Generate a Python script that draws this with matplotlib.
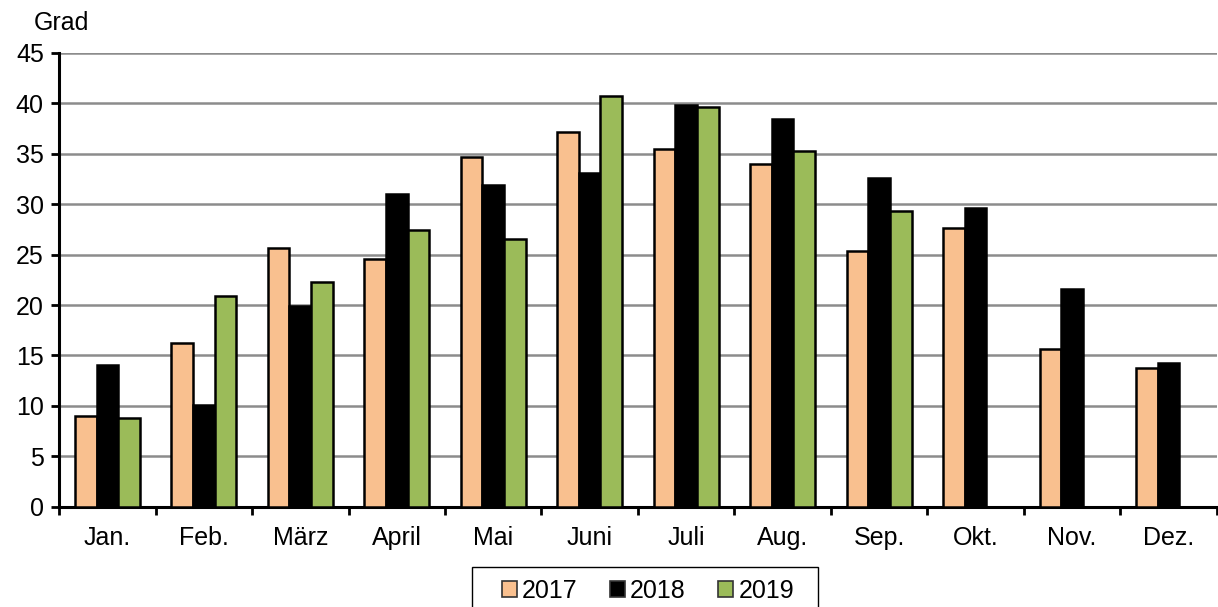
import matplotlib.pyplot as plt
import numpy as np
from matplotlib.patches import Rectangle

plt.rcParams['font.family'] = ['Liberation Sans', 'DejaVu Sans']

months = ['Jan.', 'Feb.', 'März', 'April', 'Mai', 'Juni', 'Juli', 'Aug.', 'Sep.', 'Okt.', 'Nov.', 'Dez.']
v2017 = [9.0, 16.2, 25.7, 24.6, 34.7, 37.2, 35.5, 34.0, 25.4, 27.6, 15.6, 13.8]
v2018 = [14.1, 10.1, 19.9, 31.0, 31.9, 33.1, 39.8, 38.4, 32.6, 29.6, 21.6, 14.3]
v2019 = [8.8, 20.9, 22.3, 27.4, 26.5, 40.7, 39.6, 35.3, 29.3, np.nan, np.nan, np.nan]

series = [('2017', v2017, '#F9C08F'), ('2018', v2018, '#000000'), ('2019', v2019, '#9BBB59')]

fig = plt.figure(figsize=(12.18, 6.07), dpi=100)
ax = fig.add_axes([0.0485, 0.165, 0.9505, 0.748])

x = np.arange(len(months))
w = 0.224
for i, (lab, vals, col) in enumerate(series):
    ax.bar(x + (i - 1) * w, vals, w, color=col, edgecolor='black', linewidth=1.8, label=lab, zorder=3)

ax.set_xlim(-0.5, len(months) - 0.5)
ax.set_ylim(0, 45)
ax.set_yticks(range(0, 46, 5))
ax.set_xticks(x)
ax.set_xticklabels(months)
ax.set_xticks(np.arange(-0.5, len(months), 1), minor=True)
ax.tick_params(axis='x', which='major', length=0, pad=14, labelsize=18)
ax.tick_params(axis='x', which='minor', length=6, width=2, direction='out')
ax.tick_params(axis='y', length=6, width=2, direction='out', labelsize=18, pad=5)
ax.grid(axis='y', color='#8c8c8c', linewidth=1.8, zorder=0)
for s in ['top', 'right']:
    ax.spines[s].set_visible(False)
for s in ['left', 'bottom']:
    ax.spines[s].set_linewidth(2.2)

fig.text(0.028, 0.962, 'Grad', fontsize=18, ha='left', va='center')

# legend box (runs off the bottom edge like in the original)
fig.patches.append(Rectangle((0.3875, -0.05), 0.284, 0.116, transform=fig.transFigure,
                             facecolor='white', edgecolor='black', linewidth=1.0, zorder=1))
leg = fig.legend(loc='center', bbox_to_anchor=(0.532, 0.027), ncol=3, fontsize=18,
                 frameon=False, handlelength=0.6, handleheight=0.6, handletextpad=0.2,
                 columnspacing=1.3, borderpad=0, borderaxespad=0)
leg.set_zorder(2)
for h in leg.legend_handles:
    h.set_edgecolor('#333333')
    h.set_linewidth(1.2)

fig.savefig('out.png', dpi=100)
